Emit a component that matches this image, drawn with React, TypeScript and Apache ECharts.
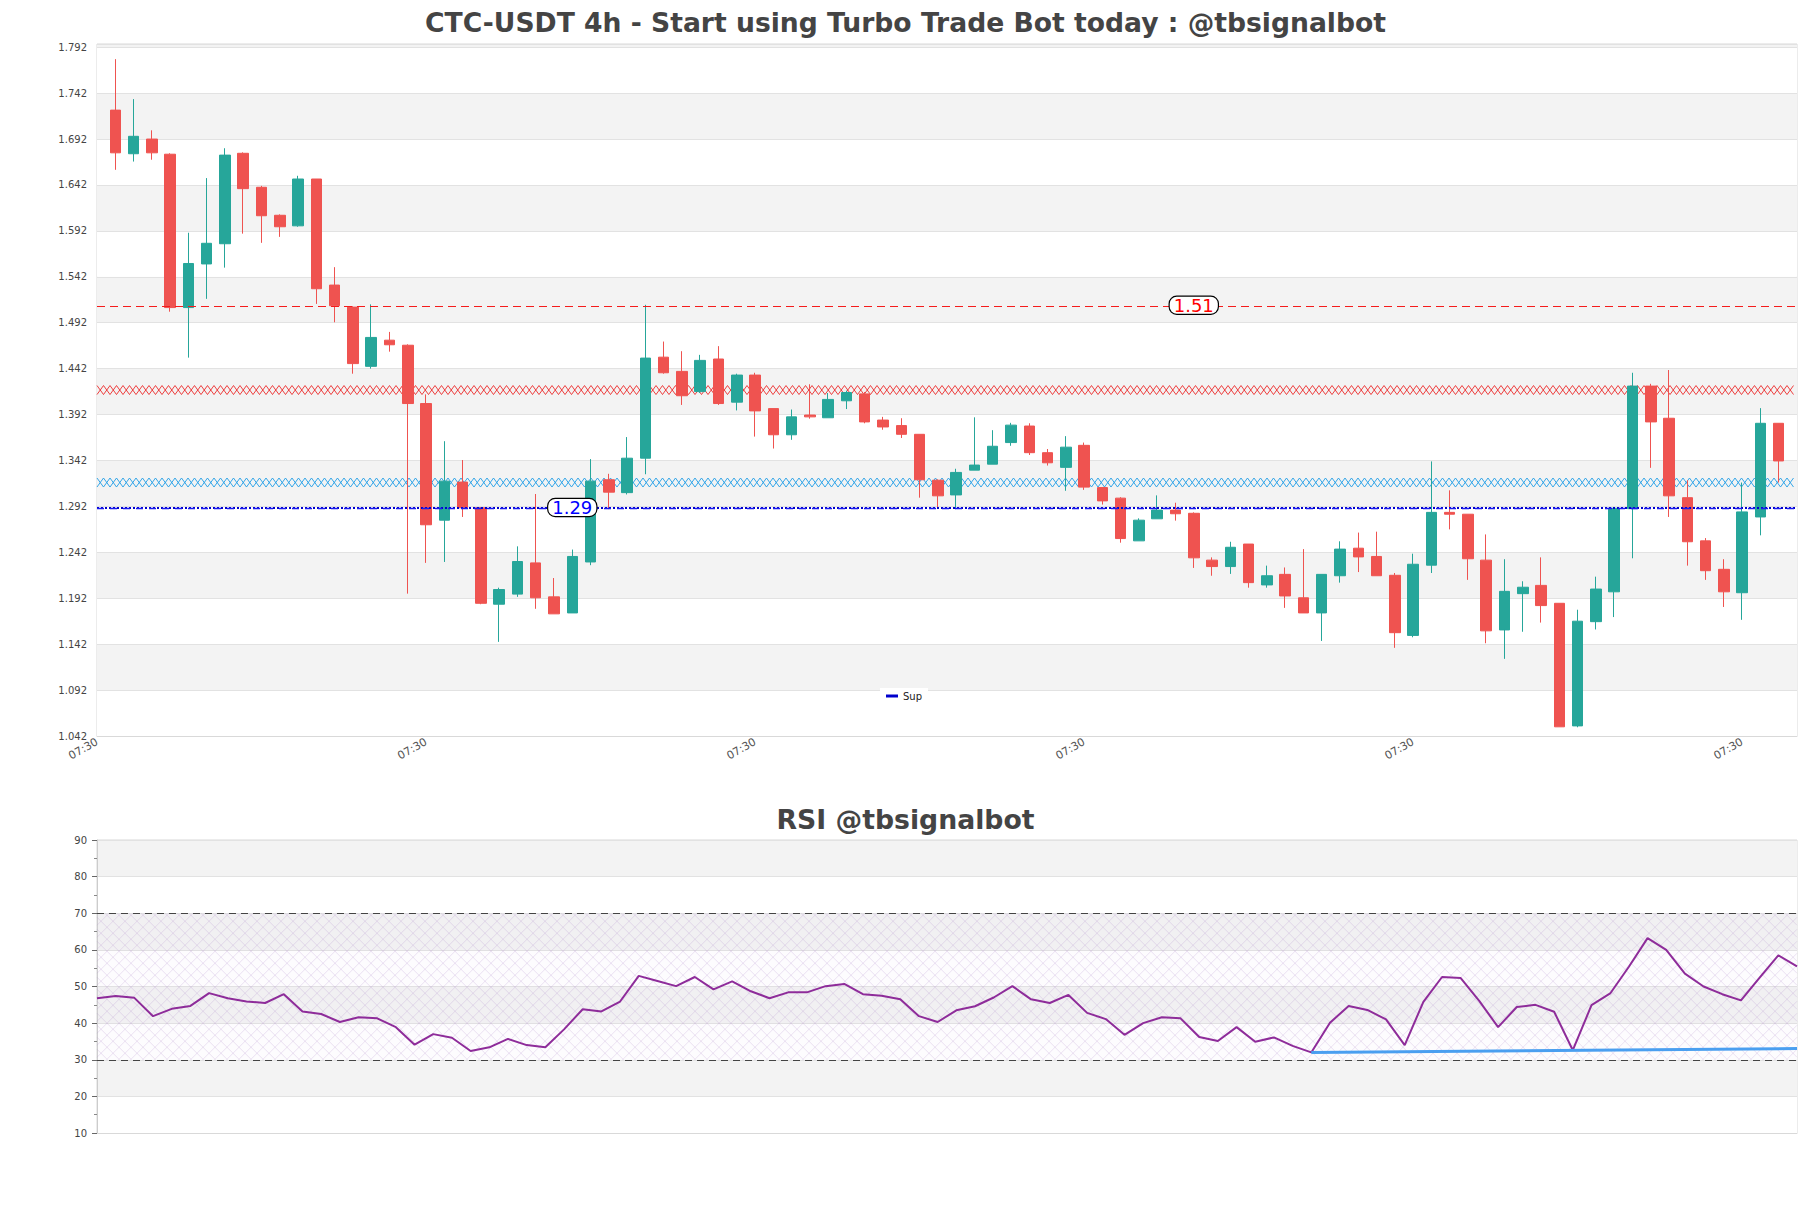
import React, { useEffect, useRef } from 'react';
import * as echarts from 'echarts';

const TITLE = 'CTC-USDT 4h - Start using Turbo Trade Bot today : @tbsignalbot';
const RSI_TITLE = 'RSI @tbsignalbot';

const opens = [
  1.7235, 1.676, 1.692, 1.6755, 1.5085, 1.556, 1.578, 1.6765, 1.6395, 1.609,
  1.5975, 1.6485, 1.533, 1.509, 1.4445, 1.473, 1.4675, 1.404, 1.277, 1.3185,
  1.2905, 1.1855, 1.1965, 1.2305, 1.1935, 1.176, 1.2315, 1.321, 1.307, 1.3445,
  1.4545, 1.439, 1.417, 1.4525, 1.4055, 1.435, 1.3985, 1.37, 1.3915, 1.3885,
  1.407, 1.4145, 1.386, 1.38, 1.3705, 1.3205, 1.3045, 1.3315, 1.338, 1.3615,
  1.3795, 1.3505, 1.3345, 1.3585, 1.3125, 1.301, 1.2545, 1.2785, 1.288, 1.2845,
  1.2335, 1.2265, 1.251, 1.2065, 1.218, 1.1925, 1.176, 1.2165, 1.2465, 1.2375,
  1.217, 1.1515, 1.228, 1.2855, 1.2835, 1.2335, 1.1575, 1.197, 1.206, 1.1865,
  1.053, 1.1665, 1.199, 1.2895, 1.423, 1.388, 1.3015, 1.2545, 1.2235, 1.198,
  1.2805, 1.3825,
];
const closes = [
  1.677, 1.695, 1.677, 1.5085, 1.5565, 1.5785, 1.6745, 1.638, 1.6085, 1.5965,
  1.6485, 1.529, 1.5105, 1.4475, 1.476, 1.468, 1.404, 1.272, 1.3195, 1.2905,
  1.1865, 1.2015, 1.232, 1.1925, 1.175, 1.2375, 1.3195, 1.3075, 1.3445, 1.4535,
  1.4375, 1.4125, 1.451, 1.404, 1.435, 1.396, 1.37, 1.3895, 1.3895, 1.4085,
  1.416, 1.384, 1.3785, 1.3705, 1.321, 1.3035, 1.329, 1.337, 1.3575, 1.3805,
  1.3505, 1.3395, 1.3565, 1.313, 1.298, 1.257, 1.277, 1.288, 1.284, 1.236,
  1.2265, 1.2475, 1.209, 1.2165, 1.1945, 1.176, 1.218, 1.2455, 1.237, 1.2165,
  1.1545, 1.229, 1.2855, 1.2835, 1.235, 1.1565, 1.1995, 1.204, 1.184, 1.052,
  1.167, 1.202, 1.29, 1.423, 1.384, 1.3035, 1.2535, 1.222, 1.199, 1.286,
  1.3825, 1.3415,
];
const lows = [
  1.6585, 1.6675, 1.6695, 1.504, 1.454, 1.518, 1.552, 1.589, 1.579, 1.5855,
  1.5965, 1.5125, 1.4925, 1.4365, 1.442, 1.4605, 1.197, 1.2305, 1.2315, 1.2805,
  1.1855, 1.1445, 1.1935, 1.1805, 1.175, 1.176, 1.228, 1.289, 1.305, 1.327,
  1.4365, 1.4025, 1.4155, 1.4025, 1.3965, 1.368, 1.355, 1.3645, 1.3875, 1.3885,
  1.398, 1.3825, 1.3755, 1.3665, 1.3015, 1.2905, 1.289, 1.3315, 1.338, 1.358,
  1.348, 1.3365, 1.309, 1.31, 1.294, 1.2525, 1.2545, 1.2785, 1.2765, 1.225,
  1.2165, 1.2185, 1.2035, 1.2035, 1.1815, 1.176, 1.1455, 1.209, 1.2205, 1.2165,
  1.138, 1.1495, 1.2195, 1.267, 1.212, 1.143, 1.126, 1.1555, 1.1655, 1.052,
  1.0515, 1.158, 1.1715, 1.2355, 1.334, 1.2805, 1.2275, 1.212, 1.1825, 1.1685,
  1.2605, 1.318,
];
const highs = [
  1.779, 1.7355, 1.7015, 1.6765, 1.59, 1.6495, 1.682, 1.6775, 1.641, 1.61,
  1.652, 1.6485, 1.5525, 1.51, 1.512, 1.482, 1.4685, 1.414, 1.363, 1.3425,
  1.291, 1.2035, 1.2485, 1.3055, 1.214, 1.245, 1.3435, 1.3275, 1.3675, 1.5115,
  1.4715, 1.461, 1.457, 1.4665, 1.4365, 1.4375, 1.3985, 1.3975, 1.425, 1.4155,
  1.418, 1.4165, 1.3895, 1.388, 1.3705, 1.3215, 1.333, 1.389, 1.375, 1.383,
  1.3825, 1.3545, 1.3685, 1.3615, 1.3125, 1.302, 1.279, 1.304, 1.296, 1.2855,
  1.2365, 1.2535, 1.251, 1.2275, 1.2255, 1.2455, 1.218, 1.254, 1.2635, 1.2645,
  1.2195, 1.2405, 1.341, 1.3095, 1.2835, 1.2615, 1.2345, 1.2105, 1.2365, 1.1865,
  1.1795, 1.2155, 1.29, 1.4375, 1.4255, 1.4405, 1.3205, 1.2575, 1.2345, 1.318,
  1.399, 1.3825,
];

const rsiValues = [
  46.8, 47.4, 46.9, 41.9, 43.9, 44.7, 48.2, 46.8, 45.9, 45.5,
  47.9, 43.2, 42.5, 40.3, 41.6, 41.3, 38.9, 34.1, 37.0, 36.0,
  32.4, 33.4, 35.7, 34.0, 33.4, 38.3, 43.8, 43.2, 45.9, 52.9,
  51.5, 50.1, 52.6, 49.2, 51.4, 48.7, 46.8, 48.4, 48.4, 50.1,
  50.7, 47.9, 47.5, 46.5, 41.9, 40.3, 43.5, 44.6, 47.0, 50.1,
  46.5, 45.5, 47.7, 42.8, 41.1, 36.8, 40.0, 41.6, 41.3, 36.2,
  35.1, 38.9, 34.9, 36.1, 33.8, 32.0, 40.1, 44.7, 43.6, 41.0,
  34.0, 45.8, 52.6, 52.3, 46.0, 38.9, 44.4, 45.0, 43.1, 32.6,
  44.9, 48.1, 55.4, 63.2, 60.0, 53.5, 50.0, 47.9, 46.2, 52.4,
  58.5, 55.5,
];

// levels
const resistanceDash = 1.5091;
const resistanceText = '1.51';
const resistanceTextSlot = 60;
const resistanceZone = 1.4187;
const supportZone = 1.318;
const supDotted = 1.2928;
const supDashed = 1.2888;
const supText = '1.29';
const supTextSlot = 26;
const rsiUpper = 70;
const rsiLower = 30;
const rsiTrend = [
  [65, 32.0],
  [91, 33.05],
];

// axis ticks
const priceMin = 1.042;
const priceMax = 1.7955;
const priceStep = 0.05;
const rsiMin = 10;
const rsiMax = 90;
const rsiStep = 10;
const timeLabelEvery = 18;

const START_UTC = Date.UTC(2024, 4, 10, 7, 30);
const STEP_HOURS = 4;
const p2 = (n: number) => String(n).padStart(2, '0');
const slotLabel = (i: number) => {
  const d = new Date(START_UTC + i * STEP_HOURS * 3600e3);
  return `${p2(d.getUTCMonth() + 1)}-${p2(d.getUTCDate())} ${p2(d.getUTCHours())}:${p2(d.getUTCMinutes())}`;
};
const priceCategories = Array.from({ length: opens.length + 2 }, (_, i) => slotLabel(i));
const rsiCategories = priceCategories.slice(1, -1);

const EMPTY = ['-', '-', '-', '-'];
const candleData = [
  EMPTY,
  ...opens.map((o, i) => [o, closes[i], lows[i], highs[i]]),
  EMPTY,
];

const FONT = 'DejaVu Sans';

function zigzag(color: string) {
  return (params: any, api: any) => {
    const cs = params.coordSys;
    const y = api.coord([0, api.value(1)])[1];
    const h = 4.5;
    const step = 6.5;
    const a: number[][] = [];
    const b: number[][] = [];
    let k = 0;
    const xEnd = cs.x + cs.width;
    for (let x = cs.x; x <= xEnd + 0.01; x += step, k++) {
      const xx = Math.min(x, xEnd);
      const up = k % 2 === 0;
      a.push([xx, up ? y - h : y + h]);
      b.push([xx, up ? y + h : y - h]);
    }
    return {
      type: 'group',
      children: [
        { type: 'polyline', shape: { points: a }, style: { stroke: color, fill: 'none', lineWidth: 0.9 } },
        { type: 'polyline', shape: { points: b }, style: { stroke: color, fill: 'none', lineWidth: 0.9 } },
      ],
    };
  };
}

function hatch(params: any, api: any) {
  const cs = params.coordSys;
  const y0 = api.coord([0, api.value(1)])[1];
  const y1 = api.coord([0, api.value(2)])[1];
  const x0 = cs.x;
  const x1 = cs.x + cs.width;
  const s = 12;
  const stroke = 'rgba(175,140,200,0.30)';
  const children: any[] = [
    { type: 'rect', shape: { x: x0, y: y0, width: x1 - x0, height: y1 - y0 }, style: { fill: 'rgba(225,200,235,0.06)' } },
  ];
  for (let c = y0 - x1; c <= y1 - x0; c += s) {
    const xa = Math.max(x0, y0 - c);
    const xb = Math.min(x1, y1 - c);
    if (xb > xa) children.push({ type: 'line', shape: { x1: xa, y1: xa + c, x2: xb, y2: xb + c }, style: { stroke, lineWidth: 0.8 } });
  }
  for (let c = x0 + y0; c <= x1 + y1; c += s) {
    const xa = Math.max(x0, c - y1);
    const xb = Math.min(x1, c - y0);
    if (xb > xa) children.push({ type: 'line', shape: { x1: xa, y1: c - xa, x2: xb, y2: c - xb }, style: { stroke, lineWidth: 0.8 } });
  }
  return { type: 'group', children };
}

const boxLabel = (text: string, color: string) => ({
  show: true,
  position: 'inside',
  formatter: text,
  color,
  fontSize: 18,
  fontFamily: FONT,
  backgroundColor: '#ffffff',
  borderColor: '#000000',
  borderWidth: 1.2,
  borderRadius: 7,
  padding: [0, 4, -1, 4],
});

const option: any = {
  animation: false,
  backgroundColor: '#ffffff',
  textStyle: { fontFamily: FONT },
  title: [
    {
      text: TITLE,
      left: 'center',
      top: 9,
      padding: 0,
      textStyle: { fontFamily: FONT, fontSize: 26.6, fontWeight: 'bold', color: '#444444' },
    },
    {
      text: RSI_TITLE,
      left: 'center',
      top: 806,
      padding: 0,
      textStyle: { fontFamily: FONT, fontSize: 26.7, fontWeight: 'bold', color: '#444444' },
    },
  ],
  legend: {
    data: ['Sup'],
    left: 880,
    top: 688,
    padding: [3, 6],
    backgroundColor: '#ffffff',
    icon: 'rect',
    itemWidth: 12,
    itemHeight: 3,
    textStyle: { fontSize: 10, color: '#222222', fontFamily: FONT },
  },
  grid: [
    { left: 97, right: 14, top: 44, height: 692, show: true, borderColor: '#d9d9d9', borderWidth: 1, backgroundColor: 'transparent' },
    { left: 97, right: 14, top: 840, height: 293, show: true, borderColor: '#d9d9d9', borderWidth: 1, backgroundColor: 'transparent' },
  ],
  xAxis: [
    {
      type: 'category',
      gridIndex: 0,
      data: priceCategories,
      boundaryGap: false,
      axisLine: { show: true, lineStyle: { color: '#d9d9d9' } },
      axisTick: { show: false },
      splitLine: { show: false },
      axisLabel: {
        interval: timeLabelEvery - 1,
        rotate: 30,
        margin: 5,
        fontSize: 11,
        color: '#555555',
        fontFamily: FONT,
        formatter: (v: string) => v.slice(-5),
      },
    },
    {
      type: 'category',
      gridIndex: 1,
      data: rsiCategories,
      boundaryGap: false,
      axisLine: { show: true, lineStyle: { color: '#d9d9d9' } },
      axisTick: { show: false },
      axisLabel: { show: false },
      splitLine: { show: false },
    },
  ],
  yAxis: [
    {
      type: 'value',
      gridIndex: 0,
      min: priceMin,
      max: priceMax,
      interval: priceStep,
      axisLine: { show: false },
      axisTick: { show: false },
      axisLabel: {
        fontSize: 10,
        color: '#444444',
        margin: 10,
        showMaxLabel: false,
        fontFamily: FONT,
        formatter: (v: number) => v.toFixed(3),
      },
      splitLine: { show: true, lineStyle: { color: '#e2e2e2', width: 1 } },
      splitArea: { show: true, areaStyle: { color: ['#ffffff', '#f3f3f3'] } },
    },
    {
      type: 'value',
      gridIndex: 1,
      min: rsiMin,
      max: rsiMax,
      interval: rsiStep,
      axisLine: { show: true, lineStyle: { color: '#cccccc' } },
      axisTick: { show: true, length: 5, lineStyle: { color: '#666666' } },
      minorTick: { show: true, splitNumber: 2, length: 3, lineStyle: { color: '#888888' } },
      axisLabel: { fontSize: 10, color: '#444444', margin: 10, fontFamily: FONT },
      splitLine: { show: true, lineStyle: { color: '#e2e2e2', width: 1 } },
      splitArea: { show: true, areaStyle: { color: ['#ffffff', '#f3f3f3'] } },
    },
  ],
  series: [
    {
      type: 'custom',
      name: 'ResZone',
      xAxisIndex: 0,
      yAxisIndex: 0,
      silent: true,
      z: 1,
      data: [[priceCategories[0], resistanceZone]],
      renderItem: zigzag('#ec2a2a'),
    },
    {
      type: 'custom',
      name: 'SupZone',
      xAxisIndex: 0,
      yAxisIndex: 0,
      silent: true,
      z: 1,
      data: [[priceCategories[0], supportZone]],
      renderItem: zigzag('#1e9de6'),
    },
    {
      type: 'line',
      name: 'Sup',
      xAxisIndex: 0,
      yAxisIndex: 0,
      color: '#0000cd',
      data: [],
      z: 2,
      markLine: {
        silent: true,
        symbol: ['none', 'none'],
        label: { show: false },
        data: [
          { yAxis: supDotted, lineStyle: { color: '#0000cd', type: [2, 2], width: 2 } },
          { yAxis: supDashed, lineStyle: { color: '#1a1aee', type: [7, 6], width: 1.3 } },
        ],
      },
      markPoint: {
        silent: true,
        symbol: 'rect',
        symbolSize: 1,
        itemStyle: { color: 'rgba(0,0,0,0)' },
        data: [{ coord: [priceCategories[supTextSlot], (supDotted + supDashed) / 2], label: boxLabel(supText, '#0000ff') }],
      },
    },
    {
      type: 'candlestick',
      name: 'CTC-USDT',
      xAxisIndex: 0,
      yAxisIndex: 0,
      barWidth: 11,
      z: 3,
      data: candleData,
      itemStyle: {
        color: '#26a69a',
        color0: '#ef5350',
        borderColor: '#26a69a',
        borderColor0: '#ef5350',
        borderWidth: 1,
      },
      markLine: {
        silent: true,
        symbol: ['none', 'none'],
        label: { show: false },
        data: [{ yAxis: resistanceDash, lineStyle: { color: '#f51c1c', type: [8, 5], width: 1.2 } }],
      },
      markPoint: {
        silent: true,
        symbol: 'rect',
        symbolSize: 1,
        itemStyle: { color: 'rgba(0,0,0,0)' },
        data: [{ coord: [priceCategories[resistanceTextSlot], resistanceDash + 0.002], label: boxLabel(resistanceText, '#ff0000') }],
      },
    },
    {
      type: 'custom',
      name: 'RSI band',
      xAxisIndex: 1,
      yAxisIndex: 1,
      silent: true,
      z: 1,
      data: [[rsiCategories[0], rsiUpper, rsiLower]],
      renderItem: hatch,
    },
    {
      type: 'line',
      name: 'RSI',
      xAxisIndex: 1,
      yAxisIndex: 1,
      data: rsiValues,
      symbol: 'none',
      z: 3,
      lineStyle: { color: '#8e2c9a', width: 2 },
      itemStyle: { color: '#8e2c9a' },
      markLine: {
        silent: true,
        symbol: ['none', 'none'],
        label: { show: false },
        data: [
          { yAxis: rsiUpper, lineStyle: { color: '#444444', type: [7, 5], width: 1.2 } },
          { yAxis: rsiLower, lineStyle: { color: '#444444', type: [7, 5], width: 1.2 } },
        ],
      },
    },
    {
      type: 'line',
      name: 'RSI trend',
      xAxisIndex: 1,
      yAxisIndex: 1,
      data: rsiTrend,
      symbol: 'none',
      z: 4,
      lineStyle: { color: '#4a9ff0', width: 3 },
      itemStyle: { color: '#4a9ff0' },
    },
  ],
};

export default function App() {
  const ref = useRef<HTMLDivElement>(null);
  useEffect(() => {
    document.body.style.margin = '0';
    const chart = echarts.init(ref.current as HTMLDivElement, null, { renderer: 'svg' });
    chart.setOption(option);
    return () => chart.dispose();
  }, []);
  return <div ref={ref} style={{ width: 1811, height: 1208, background: '#ffffff' }} />;
}
